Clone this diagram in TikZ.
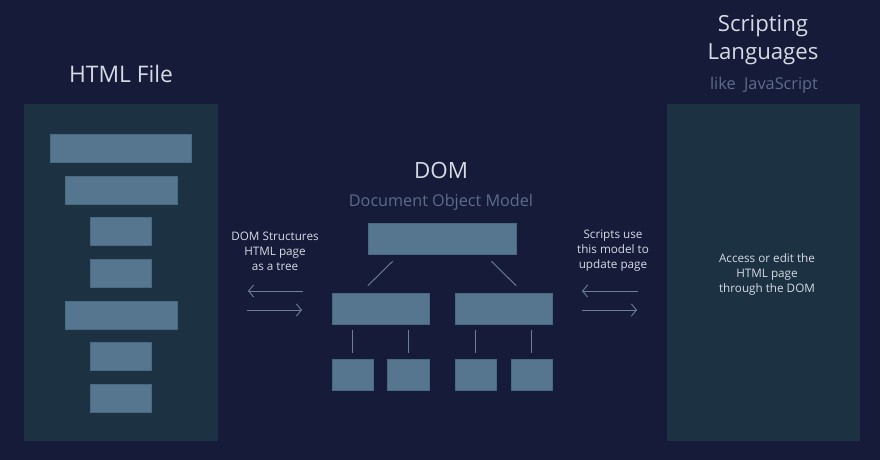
\documentclass[tikz,border=0pt]{standalone}
\usepackage{fontspec}
\setmainfont{Open Sans}
\usepackage{tikz}
\usetikzlibrary{arrows.meta}
\definecolor{bgnavy}{HTML}{161B3A}
\definecolor{panelblue}{HTML}{1C3142}
\definecolor{boxblue}{HTML}{55768E}
\definecolor{boxedge}{HTML}{476981}
\definecolor{linkgray}{HTML}{6E7E9C}
\definecolor{subgray}{HTML}{5C6C8A}
\definecolor{textwhite}{HTML}{D6DAE2}
\newcommand{\dtiny}{\fontsize{11.7pt}{15pt}\selectfont}
\tikzset{
  bar/.style={fill=boxblue, draw=boxedge, line width=0.6pt, inner sep=0pt, minimum height=28pt},
  treebox/.style={fill=boxblue, draw=boxedge, line width=0.6pt, inner sep=0pt, minimum height=31pt},
  link/.style={draw=linkgray, line width=0.9pt},
  flow/.style={link, -{Straight Barb[length=5pt, width=12pt, line width=0.9pt]}},
  note/.style={text=textwhite, align=center, font=\dtiny}
}
\begin{document}
\begin{tikzpicture}[x=1pt, y=-1pt]
  \fill[bgnavy] (0,0) rectangle (880,460);
  \useasboundingbox (0,0) rectangle (880,460);

  % HTML file panel
  \fill[panelblue] (24,104) rectangle (218,441);
  \node[text=textwhite, font=\fontsize{22.8pt}{26pt}\selectfont] (htmltitle) at (121,74) {HTML File};
  \node[bar, minimum width=141pt] (b1) at (121,148) {};
  \node[bar, minimum width=112pt] (b2) at (121,190) {};
  \node[bar, minimum width=61pt] (b3) at (121,231) {};
  \node[bar, minimum width=61pt] (b4) at (121,273) {};
  \node[bar, minimum width=112pt] (b5) at (121,315) {};
  \node[bar, minimum width=61pt] (b6) at (121,356) {};
  \node[bar, minimum width=61pt] (b7) at (121,398) {};

  % Scripting panel
  \fill[panelblue] (667,104) rectangle (860,441);
  \node[text=textwhite, align=center, font=\fontsize{22.2pt}{28pt}\selectfont] (scripttitle) at (763,40) {Scripting\\Languages};
  \node[text=subgray, font=\fontsize{16.3pt}{19pt}\selectfont] (scriptsub) at (764,85) {like\ \ JavaScript};
  \node[note] (scriptnote) at (767,274) {Access or edit the\\HTML page\\through the DOM};

  % DOM tree
  \node[text=textwhite, font=\fontsize{22.4pt}{26pt}\selectfont] (domtitle) at (441,170) {DOM};
  \node[text=subgray, font=\fontsize{16.2pt}{19pt}\selectfont] (domsub) at (441,202) {Document Object Model};
  \node[treebox, minimum width=148pt] (top) at (442,238.5) {};
  \node[treebox, minimum width=97pt] (midL) at (380.5,308.5) {};
  \node[treebox, minimum width=97pt] (midR) at (503.5,308.5) {};
  \node[treebox, minimum width=41pt] (leafA) at (352.5,374.5) {};
  \node[treebox, minimum width=42pt] (leafB) at (408,374.5) {};
  \node[treebox, minimum width=41pt] (leafC) at (475.5,374.5) {};
  \node[treebox, minimum width=41pt] (leafD) at (531.5,374.5) {};

  \draw[link, shorten <=10pt, shorten >=10pt] ([xshift=32pt]top.south west) -- ([xshift=29pt]midL.north west);
  \draw[link, shorten <=10pt, shorten >=10pt] ([xshift=-32pt]top.south east) -- ([xshift=-29pt]midR.north east);
  \foreach \leaf/\mid in {leafA/midL, leafB/midL, leafC/midR, leafD/midR}
    \draw[link, shorten <=6pt, shorten >=6pt] (\leaf.north |- \mid.south) -- (\leaf.north);

  % left side notes and arrows
  \node[note] (leftnote) at (275,251) {DOM Structures\\HTML page\\as a tree};
  \coordinate (la1) at (303,291);
  \coordinate (la2) at (248,291);
  \coordinate (lb1) at (247,310);
  \coordinate (lb2) at (302,310);
  \draw[flow] (la1) -- (la2);
  \draw[flow] (lb1) -- (lb2);

  % right side notes and arrows
  \node[note] (rightnote) at (613,251) {Scripts use\\this model to\\update page};
  \coordinate (ra1) at (638,291);
  \coordinate (ra2) at (582,291);
  \coordinate (rb1) at (582,310);
  \coordinate (rb2) at (637,310);
  \draw[flow] (ra1) -- (ra2);
  \draw[flow] (rb1) -- (rb2);
\end{tikzpicture}
\end{document}
